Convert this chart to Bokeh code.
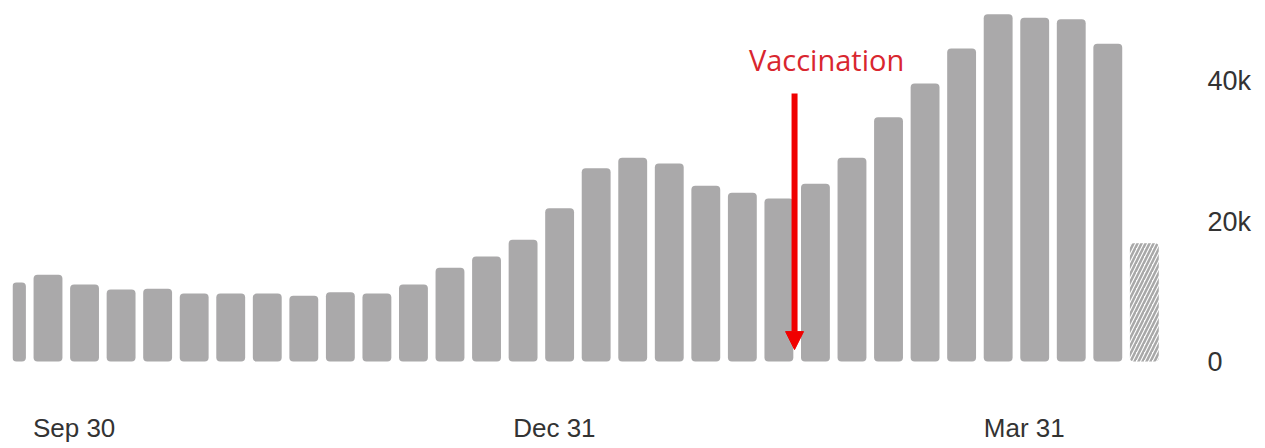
import datetime as dt

from bokeh.plotting import figure
from bokeh.models import (Range1d, FixedTicker, ColumnDataSource, Arrow,
                          NormalHead, Label, DatetimeTickFormatter)
from bokeh.embed import file_html
from bokeh.resources import INLINE

# ---------------- data ----------------
first_week = dt.datetime(2020, 9, 18)          # centre date of the first (clipped) weekly bar
weekly_cases = [11300, 12400, 11000, 10300, 10400, 9700, 9700, 9700, 9400, 9900,
                9700, 11000, 13400, 15000, 17400, 21900, 27600, 29100, 28300, 25100,
                24100, 23300, 25400, 29100, 34900, 39700, 44700, 49600, 49100, 48900,
                45400]
partial_week_cases = [16900]                   # incomplete current week (hatched)

x_tick_dates = [dt.datetime(2020, 9, 30), dt.datetime(2020, 12, 31), dt.datetime(2021, 3, 31)]
y_tick_values = [0, 20000, 40000]
y_tick_labels = ["0", "20k", "40k"]

vaccination_date = dt.datetime(2021, 2, 15)
vaccination_arrow_from = 38300
vaccination_arrow_to = 1700
vaccination_label_y = 43100
vaccination_text = "Vaccination"

# ---------------- helpers ----------------
EPOCH = dt.datetime(1970, 1, 1)
DAY_MS = 86400000.0


def to_ms(d):
    return (d - EPOCH).total_seconds() * 1000.0


week_dates = [to_ms(first_week) + 7 * DAY_MS * i for i in range(len(weekly_cases))]
partial_dates = [to_ms(first_week) + 7 * DAY_MS * (len(weekly_cases) + i)
                 for i in range(len(partial_week_cases))]

full_src = ColumnDataSource(dict(x=week_dates, top=weekly_cases))
part_src = ColumnDataSource(dict(x=partial_dates, top=partial_week_cases))

BAR_W = 0.79 * 7 * DAY_MS
GREY = "#aaa9aa"
RED = "#f00000"
TEXT = "#333333"

p = figure(width=1265, height=448, x_axis_type="datetime", y_axis_location="right",
           output_backend="svg", toolbar_location=None,
           x_range=Range1d(to_ms(first_week) + 0.2 * DAY_MS, to_ms(first_week) + 226.8 * DAY_MS),
           y_range=Range1d(-5571, 51571),
           min_border_left=12, min_border_right=70, min_border_top=0, min_border_bottom=48)
p.outline_line_color = None
p.grid.visible = False
p.background_fill_color = "white"
p.border_fill_color = "white"

p.vbar(x="x", top="top", bottom=0, width=BAR_W, source=full_src,
       fill_color=GREY, line_color=None, border_radius=4)
p.vbar(x="x", top="top", bottom=0, width=BAR_W, source=part_src,
       fill_color="white", line_color=None, hatch_pattern="/", hatch_color="#a8a8a8",
       hatch_scale=8, hatch_weight=2.5, border_radius=4)

# x axis
xa = p.xaxis[0]
xa.ticker = FixedTicker(ticks=[to_ms(d) for d in x_tick_dates])
fmt = "%b %d"
xa.formatter = DatetimeTickFormatter(microseconds=fmt, milliseconds=fmt, seconds=fmt,
                                     minsec=fmt, minutes=fmt, hourmin=fmt, hours=fmt,
                                     days=fmt, months=fmt, years=fmt, context=None)
xa.axis_line_color = None
xa.major_tick_line_color = None
xa.minor_tick_line_color = None
xa.major_tick_out = 0
xa.minor_tick_out = 0
xa.major_tick_in = 0
xa.major_label_standoff = 12
xa.major_label_text_font = "Liberation Sans"
xa.major_label_text_font_size = "26px"
xa.major_label_text_color = TEXT

# y axis (right)
ya = p.yaxis[0]
ya.ticker = FixedTicker(ticks=y_tick_values)
ya.major_label_overrides = {v: s for v, s in zip(y_tick_values, y_tick_labels)}
ya.axis_line_color = None
ya.major_tick_line_color = None
ya.minor_tick_line_color = None
ya.major_tick_out = 0
ya.minor_tick_out = 0
ya.major_tick_in = 0
ya.major_label_standoff = 12
ya.major_label_text_font = "Liberation Sans"
ya.major_label_text_font_size = "27px"
ya.major_label_text_color = TEXT

# vaccination annotation
vx = to_ms(vaccination_date)
p.add_layout(Arrow(end=NormalHead(size=18, fill_color=RED, line_color=RED, line_width=1),
                   x_start=vx, y_start=vaccination_arrow_from,
                   x_end=vx, y_end=vaccination_arrow_to,
                   line_color=RED, line_width=6))
p.add_layout(Label(x=vx, y=vaccination_label_y, x_offset=32, text=vaccination_text,
                   text_align="center", text_baseline="alphabetic",
                   text_font="Open Sans", text_font_size="29px", text_color="#d9262f"))

open("out.html", "w").write(file_html(p, INLINE))
